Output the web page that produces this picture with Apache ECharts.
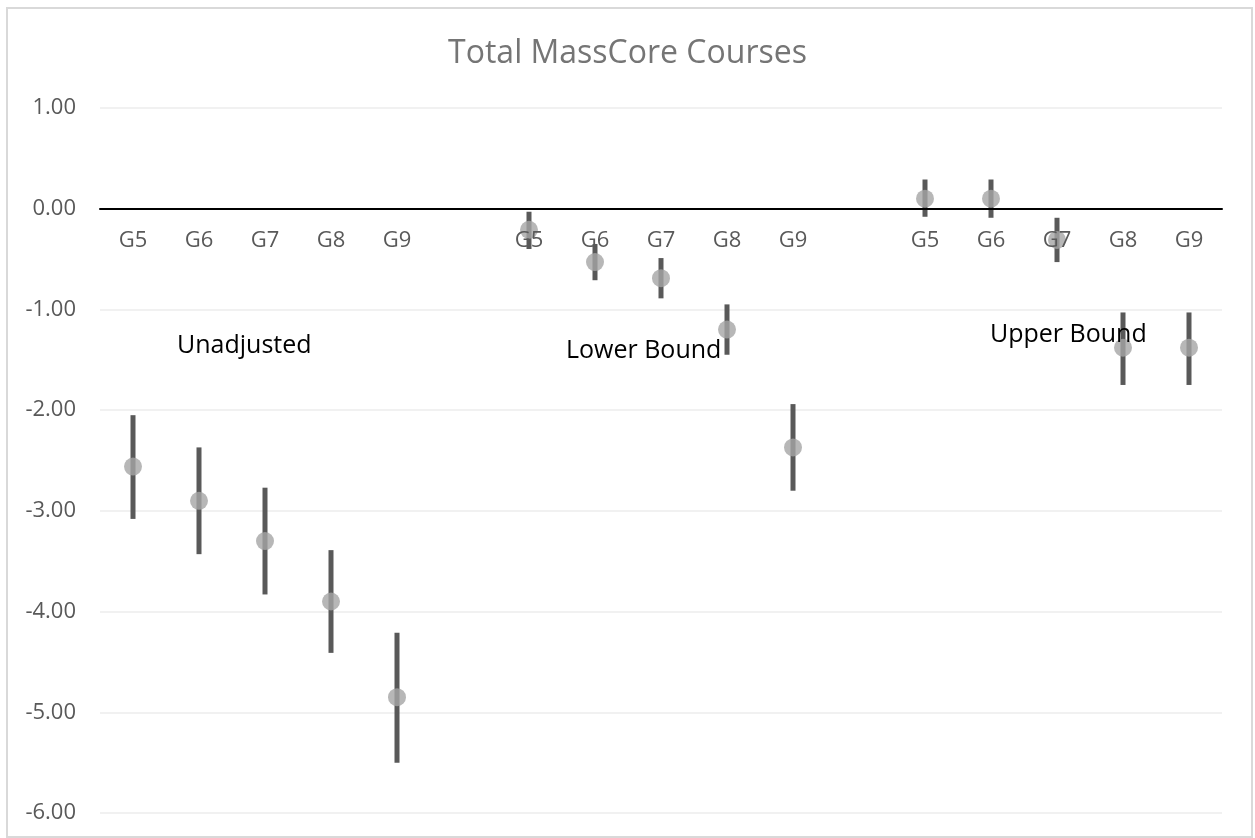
<!DOCTYPE html>
<html>
<head>
<meta charset="utf-8">
<title>Total MassCore Courses</title>
<script src="https://cdn.jsdelivr.net/npm/echarts@6/dist/echarts.min.js"></script>
<style>
    html, body { margin: 0; padding: 0; background: #fff; }
    #masscoreChart { width: 1255px; height: 838px; }
</style>
</head>
<body>
<div id="masscoreChart"></div>
<script>
// category slots: three groups of grades, with an empty gap between groups
var categories = ['G5', 'G6', 'G7', 'G8', 'G9', '', 'G5', 'G6', 'G7', 'G8', 'G9', '', 'G5', 'G6', 'G7', 'G8', 'G9']
var groupStart = [0, 6, 12]
var groupNames = ['Unadjusted', 'Lower Bound', 'Upper Bound']

// point estimates and interval ends per group (G5..G9)
var unadjMean = [-2.56, -2.90, -3.30, -3.90, -4.85]
var unadjLow = [-3.08, -3.43, -3.83, -4.41, -5.50]
var unadjHigh = [-2.05, -2.37, -2.77, -3.39, -4.21]

var lowerMean = [-0.21, -0.53, -0.69, -1.20, -2.37]
var lowerLow = [-0.40, -0.71, -0.89, -1.45, -2.80]
var lowerHigh = [-0.03, -0.35, -0.49, -0.95, -1.94]

var upperMean = [0.10, 0.10, -0.31, -1.38, -1.38]
var upperLow = [-0.08, -0.09, -0.53, -1.75, -1.75]
var upperHigh = [0.29, 0.29, -0.09, -1.03, -1.03]

var yTicks = { min: -6, max: 1, interval: 1 }

var means = [unadjMean, lowerMean, upperMean]
var lows = [unadjLow, lowerLow, upperLow]
var highs = [unadjHigh, lowerHigh, upperHigh]

var pointData = []
var barData = []
for (var g = 0; g < groupStart.length; g++) {
    for (var i = 0; i < means[g].length; i++) {
        var idx = groupStart[g] + i
        pointData.push([idx, means[g][i]])
        barData.push([idx, lows[g][i], highs[g][i]])
    }
}

var gridTop = 108
var chartDom = document.getElementById('masscoreChart')
var myChart = echarts.init(chartDom, null, { renderer: 'canvas' })

var labelFont = { fontFamily: 'Open Sans', fontSize: 25, fill: '#000000' }

var option = {
    backgroundColor: '#ffffff',
    animation: false,
    title: {
        text: 'Total MassCore Courses',
        left: 'center',
        top: 33,
        textStyle: {
            fontFamily: 'Open Sans',
            fontSize: 32,
            fontWeight: 'normal',
            color: '#757575'
        }
    },
    grid: {
        left: 100,
        right: 33,
        top: gridTop,
        bottom: 25,
        containLabel: false,
        outerBoundsMode: 'none'
    },
    xAxis: {
        type: 'category',
        data: categories,
        boundaryGap: true,
        position: 'top',
        offset: 0,
        z: 10,
        axisLine: {
            onZero: false,
            lineStyle: { color: '#000000', width: 2 }
        },
        axisTick: { show: false },
        axisLabel: {
            inside: true,
            interval: 0,
            margin: 21,
            fontFamily: 'Open Sans',
            fontSize: 22,
            color: '#595959'
        },
        splitLine: { show: false }
    },
    yAxis: {
        type: 'value',
        min: yTicks.min,
        max: yTicks.max,
        interval: yTicks.interval,
        axisLine: { show: false },
        axisTick: { show: false },
        axisLabel: {
            margin: 24,
            fontFamily: 'Open Sans',
            fontSize: 22,
            color: '#595959',
            formatter: function (v) { return v.toFixed(2) }
        },
        splitLine: {
            show: true,
            lineStyle: { color: '#EDEDED', width: 1.5 }
        }
    },
    graphic: [
        {
            type: 'rect',
            shape: { x: 7, y: 8, width: 1245, height: 829 },
            style: { fill: 'none', stroke: '#D9D9D9', lineWidth: 2 },
            z: 0,
            silent: true
        },
        { type: 'text', left: 177, top: 333, z: 100, style: Object.assign({ text: groupNames[0] }, labelFont) },
        { type: 'text', left: 566, top: 338, z: 100, style: Object.assign({ text: groupNames[1] }, labelFont) },
        { type: 'text', left: 990, top: 322, z: 100, style: Object.assign({ text: groupNames[2] }, labelFont) }
    ],
    series: [
        {
            name: 'interval',
            type: 'custom',
            z: 3,
            data: barData,
            encode: { x: 0, y: [1, 2] },
            renderItem: function (params, api) {
                var lowPt = api.coord([api.value(0), api.value(1)])
                var highPt = api.coord([api.value(0), api.value(2)])
                return {
                    type: 'line',
                    shape: { x1: lowPt[0], y1: lowPt[1], x2: highPt[0], y2: highPt[1] },
                    style: { stroke: '#595959', lineWidth: 5 }
                }
            }
        },
        {
            name: 'estimate',
            type: 'scatter',
            z: 4,
            symbol: 'circle',
            symbolSize: 18,
            itemStyle: { color: '#A5A5A5' },
            data: pointData
        }
    ]
}

myChart.setOption(option, true)

// move the category axis (line + labels) down to the value 0
var zeroY = myChart.convertToPixel({ yAxisIndex: 0 }, 0)
myChart.setOption({ xAxis: { offset: gridTop - zeroY } })
</script>
</body>
</html>
